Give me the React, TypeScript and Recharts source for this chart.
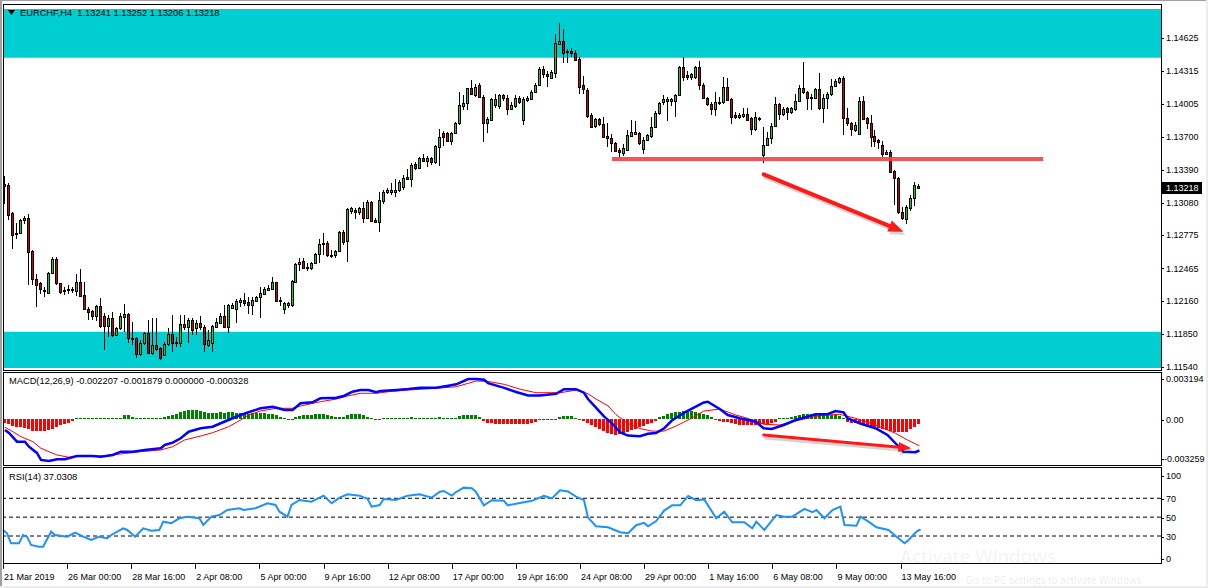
import React from "react";
import {
  Bar,
  ComposedChart,
  Line,
  ReferenceArea,
  ReferenceLine,
  XAxis,
  YAxis,
} from "recharts";

// MT4-style EURCHF H4 window: price panel with zones, MACD and RSI sub-windows.

const FONT = '"Liberation Sans", Arial, Helvetica, sans-serif';

const OPEN = [
  1.13253, 1.13246, 1.12981, 1.12785, 1.12794, 1.12919, 1.12934, 1.12629, 1.12363, 1.12326,
  1.12254, 1.12239, 1.1242, 1.12551, 1.12326, 1.12264, 1.12264, 1.12264, 1.12257, 1.12335,
  1.12214, 1.12089, 1.12064, 1.1202, 1.12114, 1.1202, 1.11927, 1.11998, 1.11842, 1.11905,
  1.12014, 1.12039, 1.11817, 1.11811, 1.11665, 1.11764, 1.11864, 1.11671, 1.11749, 1.11718,
  1.11655, 1.11758, 1.11852, 1.11774, 1.11764, 1.11945, 1.1192, 1.11983, 1.11905, 1.11958,
  1.1192, 1.11749, 1.11771, 1.1192, 1.11958, 1.1202, 1.1192, 1.12092, 1.12089, 1.12151,
  1.1217, 1.12151, 1.12126, 1.12164, 1.12195, 1.12226, 1.12264, 1.12273, 1.12335, 1.1217,
  1.12083, 1.12126, 1.12123, 1.12338, 1.12504, 1.12535, 1.12473, 1.12466, 1.12513, 1.12597,
  1.127, 1.127, 1.12591, 1.12591, 1.12629, 1.1281, 1.12722, 1.13003, 1.13009, 1.12991,
  1.13028, 1.12934, 1.13084, 1.12919, 1.12897, 1.13097, 1.13184, 1.13178, 1.13184, 1.132,
  1.13231, 1.13324, 1.13303, 1.1344, 1.13402, 1.13496, 1.13471, 1.13496, 1.13459, 1.13605,
  1.1373, 1.1373, 1.13658, 1.1373, 1.13824, 1.13989, 1.14011, 1.14151, 1.14093, 1.14184,
  1.1407, 1.13825, 1.13857, 1.13995, 1.13982, 1.14093, 1.1406, 1.13955, 1.13988, 1.1406,
  1.13851, 1.14044, 1.14047, 1.14119, 1.14184, 1.14331, 1.14289, 1.14249, 1.14298, 1.1457,
  1.14596, 1.14504, 1.14498, 1.14485, 1.14429, 1.14184, 1.14135, 1.13897, 1.13799, 1.13864,
  1.13818, 1.13701, 1.13687, 1.13635, 1.1357, 1.13547, 1.1357, 1.13701, 1.13727, 1.13733,
  1.1358, 1.13668, 1.13701, 1.13792, 1.13923, 1.14021, 1.14037, 1.14034, 1.14037, 1.14086,
  1.14354, 1.14275, 1.14256, 1.14256, 1.14354, 1.14184, 1.1406, 1.14004, 1.13962, 1.14011,
  1.14026, 1.14167, 1.14051, 1.13901, 1.13886, 1.13895, 1.13908, 1.13876, 1.1377, 1.13864,
  1.13527, 1.13621, 1.13683, 1.13802, 1.14001, 1.13908, 1.1397, 1.13926, 1.13958, 1.14032,
  1.14151, 1.14114, 1.14073, 1.14064, 1.14145, 1.13964, 1.14057, 1.14095, 1.14176, 1.14213,
  1.14245, 1.13876, 1.13823, 1.13761, 1.1372, 1.14032, 1.1387, 1.13823, 1.13708, 1.13667,
  1.13621, 1.13539, 1.13552, 1.13377, 1.13315, 1.12997, 1.12928, 1.13034, 1.13128, 1.13241,
];

const HIGH = [
  1.13331, 1.13262, 1.12997, 1.12888, 1.12928, 1.12956, 1.12972, 1.12638, 1.12413, 1.12342,
  1.12295, 1.12432, 1.12569, 1.12569, 1.12332, 1.12295, 1.1231, 1.12295, 1.12413, 1.1246,
  1.12335, 1.12108, 1.12076, 1.12123, 1.12186, 1.12045, 1.1203, 1.12061, 1.1192, 1.12045,
  1.12133, 1.12045, 1.11961, 1.11827, 1.11796, 1.11874, 1.11983, 1.11998, 1.11998, 1.11733,
  1.11774, 1.11905, 1.1203, 1.11827, 1.1203, 1.1203, 1.11998, 1.11998, 1.11983, 1.1202,
  1.11936, 1.11889, 1.11936, 1.11998, 1.12045, 1.12123, 1.12133, 1.12139, 1.12179, 1.12192,
  1.12232, 1.12201, 1.12201, 1.12207, 1.12289, 1.12295, 1.12307, 1.12388, 1.12342, 1.12201,
  1.12154, 1.12154, 1.12357, 1.12513, 1.1256, 1.1256, 1.12513, 1.12529, 1.12607, 1.12741,
  1.12794, 1.12722, 1.12638, 1.12638, 1.12816, 1.12825, 1.13034, 1.13044, 1.13034, 1.13044,
  1.1309, 1.13106, 1.13097, 1.12934, 1.13184, 1.132, 1.13215, 1.13262, 1.13303, 1.13293,
  1.1334, 1.13396, 1.13449, 1.13459, 1.13512, 1.13534, 1.13521, 1.13512, 1.13621, 1.13771,
  1.13752, 1.13739, 1.13739, 1.13833, 1.1412, 1.14089, 1.14157, 1.14229, 1.14191, 1.142,
  1.14086, 1.13883, 1.1406, 1.14102, 1.14102, 1.14102, 1.14086, 1.14021, 1.14093, 1.1408,
  1.14066, 1.1408, 1.14132, 1.14197, 1.14347, 1.14364, 1.14315, 1.14321, 1.14658, 1.14766,
  1.14707, 1.14517, 1.14527, 1.14511, 1.14445, 1.14266, 1.14151, 1.13923, 1.13874, 1.13874,
  1.13883, 1.13831, 1.13727, 1.13645, 1.13596, 1.13629, 1.13759, 1.13851, 1.13841, 1.13743,
  1.13694, 1.13727, 1.13883, 1.13939, 1.14027, 1.14093, 1.1407, 1.1406, 1.14102, 1.14364,
  1.14445, 1.14315, 1.14298, 1.14364, 1.14406, 1.142, 1.1407, 1.14027, 1.14119, 1.14073,
  1.1426, 1.14245, 1.14064, 1.13933, 1.13917, 1.13964, 1.13964, 1.13886, 1.13926, 1.13886,
  1.13792, 1.13745, 1.13823, 1.14073, 1.14011, 1.13979, 1.13979, 1.13979, 1.14095, 1.14182,
  1.14401, 1.14126, 1.14095, 1.14157, 1.14291, 1.14095, 1.1412, 1.14238, 1.14238, 1.1426,
  1.1427, 1.13964, 1.13839, 1.13839, 1.14073, 1.14082, 1.13886, 1.13901, 1.13761, 1.13677,
  1.13658, 1.13574, 1.13574, 1.13387, 1.13324, 1.13043, 1.13059, 1.13153, 1.13271, 1.13252,
];

const LOW = [
  1.1307, 1.12919, 1.12647, 1.12738, 1.12788, 1.12881, 1.12304, 1.1231, 1.12108, 1.12226,
  1.12201, 1.12232, 1.12413, 1.1231, 1.12226, 1.12217, 1.12226, 1.12239, 1.12207, 1.12201,
  1.12083, 1.11983, 1.11983, 1.11977, 1.11905, 1.11702, 1.11827, 1.11827, 1.11833, 1.11889,
  1.11874, 1.11764, 1.11749, 1.11633, 1.11646, 1.11749, 1.11665, 1.11655, 1.11686, 1.11608,
  1.11646, 1.11733, 1.11686, 1.11733, 1.11733, 1.11889, 1.11764, 1.11842, 1.11842, 1.11889,
  1.11686, 1.11733, 1.11686, 1.11905, 1.11952, 1.1191, 1.11858, 1.12083, 1.11958, 1.12108,
  1.12108, 1.12039, 1.12033, 1.12154, 1.11998, 1.12217, 1.12248, 1.12264, 1.12154, 1.12114,
  1.12045, 1.12101, 1.12101, 1.12326, 1.12441, 1.12466, 1.12435, 1.12451, 1.12504, 1.12513,
  1.12591, 1.12576, 1.1256, 1.1256, 1.12622, 1.12685, 1.12529, 1.12981, 1.12934, 1.12972,
  1.12897, 1.12928, 1.12903, 1.12888, 1.1281, 1.13065, 1.13159, 1.13153, 1.13137, 1.13184,
  1.132, 1.13293, 1.13221, 1.13387, 1.13396, 1.13459, 1.13418, 1.13434, 1.1344, 1.13427,
  1.13615, 1.13652, 1.13621, 1.13721, 1.13814, 1.13948, 1.13948, 1.14089, 1.1407, 1.1406,
  1.13645, 1.13733, 1.13841, 1.13972, 1.13962, 1.14037, 1.13897, 1.13949, 1.13972, 1.14004,
  1.13805, 1.14027, 1.14037, 1.14112, 1.14178, 1.14249, 1.14168, 1.14233, 1.14243, 1.1456,
  1.14387, 1.14387, 1.14445, 1.14413, 1.14102, 1.14102, 1.13874, 1.13785, 1.13785, 1.13799,
  1.13687, 1.13603, 1.13557, 1.13557, 1.13514, 1.13514, 1.13563, 1.13694, 1.1371, 1.13622,
  1.13537, 1.13661, 1.13687, 1.13785, 1.13906, 1.14001, 1.13841, 1.13988, 1.13883, 1.1408,
  1.14217, 1.14233, 1.14233, 1.14243, 1.14135, 1.14053, 1.13982, 1.13906, 1.13897, 1.13995,
  1.14011, 1.14026, 1.13823, 1.13864, 1.13864, 1.1387, 1.13845, 1.13714, 1.13752, 1.13851,
  1.13458, 1.13614, 1.13627, 1.13792, 1.13855, 1.13895, 1.13855, 1.13917, 1.13939, 1.1402,
  1.14104, 1.13948, 1.13948, 1.14051, 1.13948, 1.13823, 1.13964, 1.14082, 1.14167, 1.14198,
  1.1372, 1.13792, 1.13708, 1.13745, 1.13714, 1.13855, 1.13777, 1.13605, 1.13605, 1.13583,
  1.13511, 1.13527, 1.13365, 1.13059, 1.12981, 1.12919, 1.12878, 1.13003, 1.13043, 1.13206,
];

const CLOSE = [
  1.1324, 1.12966, 1.12778, 1.128, 1.12919, 1.12934, 1.12622, 1.12363, 1.12314, 1.1227,
  1.12264, 1.12426, 1.12551, 1.12326, 1.12248, 1.12251, 1.12276, 1.12276, 1.12335, 1.12211,
  1.12089, 1.12061, 1.1202, 1.12114, 1.11927, 1.1193, 1.11998, 1.11842, 1.11905, 1.12023,
  1.12039, 1.11811, 1.11805, 1.11665, 1.11764, 1.11864, 1.11671, 1.11749, 1.11708, 1.11624,
  1.11758, 1.11852, 1.11771, 1.11764, 1.11945, 1.1192, 1.11983, 1.11889, 1.11958, 1.1192,
  1.11758, 1.11796, 1.11927, 1.11967, 1.1202, 1.1192, 1.12123, 1.12123, 1.12161, 1.1217,
  1.12145, 1.12126, 1.1217, 1.12198, 1.12239, 1.1227, 1.12282, 1.12335, 1.12164, 1.12164,
  1.12139, 1.12145, 1.12348, 1.12504, 1.12529, 1.12473, 1.12482, 1.12513, 1.12597, 1.12691,
  1.12691, 1.12591, 1.12579, 1.12629, 1.1281, 1.12716, 1.13022, 1.13028, 1.12997, 1.13034,
  1.12934, 1.13084, 1.1291, 1.12897, 1.13103, 1.13184, 1.132, 1.132, 1.132, 1.13271,
  1.13315, 1.13303, 1.13434, 1.13402, 1.13496, 1.13471, 1.13496, 1.13459, 1.13611, 1.13699,
  1.13699, 1.13658, 1.1373, 1.13824, 1.13995, 1.14011, 1.14151, 1.14095, 1.14168, 1.1407,
  1.13825, 1.13864, 1.14047, 1.14053, 1.14093, 1.1406, 1.13955, 1.13995, 1.1406, 1.14027,
  1.14053, 1.1406, 1.14119, 1.14184, 1.14331, 1.14282, 1.14266, 1.14308, 1.14576, 1.14596,
  1.14478, 1.14488, 1.14485, 1.14419, 1.14168, 1.14145, 1.1389, 1.13792, 1.13864, 1.13818,
  1.13694, 1.13687, 1.13635, 1.13563, 1.13557, 1.1359, 1.1371, 1.13743, 1.13743, 1.13635,
  1.13668, 1.1371, 1.13792, 1.13923, 1.14014, 1.14047, 1.14053, 1.14047, 1.14086, 1.14354,
  1.14256, 1.14256, 1.14282, 1.14354, 1.14184, 1.1406, 1.14004, 1.13955, 1.14027, 1.14026,
  1.14167, 1.14042, 1.13886, 1.13883, 1.13901, 1.13908, 1.13855, 1.1377, 1.13883, 1.13876,
  1.13621, 1.13689, 1.13802, 1.14001, 1.13908, 1.13958, 1.13926, 1.13964, 1.14032, 1.14151,
  1.14114, 1.14064, 1.14057, 1.14145, 1.13964, 1.14064, 1.14095, 1.14176, 1.1422, 1.14251,
  1.1387, 1.13823, 1.1377, 1.13808, 1.14032, 1.13864, 1.13823, 1.13699, 1.13658, 1.13646,
  1.13533, 1.13558, 1.13371, 1.13315, 1.12997, 1.12934, 1.13043, 1.13128, 1.13246, 1.13218,
];

// MACD(12,26,9): main - signal histogram, one value per bar
const MACD_HIST = [
  -0.00028, -0.00035, -0.00046, -0.00053, -0.00056, -0.00063, -0.0007, -0.00081, -0.00086, -0.00086,
  -0.00084, -0.00077, -0.0007, -0.00056, -0.00042, -0.00032, -0.00025, -0.00014, 0.00004, 0.00004,
  0.00005, 0.00004, 0.00006, 0.00004, 0.00004, 0.00005, 0.00004, 0.00006, 0.00006, 0.00007,
  0.00028, 0.00025, 0.00014, 0.00006, 0.00007, 0.00008, 0.00007, 0.00006, 0.00007, 0.00008,
  0.00011, 0.00018, 0.00028, 0.00035, 0.00046, 0.00053, 0.0006, 0.00061, 0.00061, 0.00056,
  0.00046, 0.00039, 0.00039, 0.00042, 0.00046, 0.00042, 0.00046, 0.00046, 0.00042, 0.00039,
  0.00035, 0.00035, 0.00039, 0.00039, 0.00042, 0.00039, 0.00035, 0.00032, 0.00025, 0.00014,
  0.00004, -0.00007, -0.00004, 0.00011, 0.00021, 0.00028, 0.00028, 0.00028, 0.00032, 0.00035,
  0.00032, 0.00025, 0.00018, 0.00011, 0.00011, 0.00011, 0.00028, 0.00035, 0.00035, 0.00035,
  0.00025, 0.00011, 0.00007, -0.00005, -0.00004, 0.00004, 0.00006, 0.00007, 0.00008, 0.00007,
  0.00008, 0.00006, 0.00011, 0.00008, 0.00007, 0.00006, 0.00005, 0.00004, 0.00007, 0.00011,
  0.00008, 0.00006, 0.00004, 0.00007, 0.00018, 0.00025, 0.00028, 0.00028, 0.00028, 0.00014,
  -0.00014, -0.00025, -0.00028, -0.00032, -0.00032, -0.00032, -0.00035, -0.00035, -0.00035, -0.00035,
  -0.00032, -0.00032, -0.00028, -0.00021, -0.00007, -0.00007, -0.00005, -0.00005, -0.00004, 0.00011,
  0.00021, 0.00021, 0.00018, 0.00007, -0.00004, -0.00014, -0.00028, -0.00042, -0.00056, -0.0007,
  -0.00084, -0.00095, -0.00105, -0.00109, -0.00105, -0.00102, -0.00091, -0.00077, -0.00067, -0.00056,
  -0.00046, -0.00035, -0.00025, -0.00014, 0.00011, 0.00021, 0.00032, 0.00039, 0.00046, 0.00049,
  0.00054, 0.00054, 0.00053, 0.00049, 0.00042, 0.00035, 0.00028, 0.00011, -0.00007, -0.00014,
  -0.00018, -0.00019, -0.00028, -0.00035, -0.00039, -0.00042, -0.00042, -0.00042, -0.00042, -0.00039,
  -0.00037, -0.00035, -0.00028, -0.00018, 0.00005, 0.00007, 0.00008, 0.00014, 0.00021, 0.00028,
  0.00033, 0.00033, 0.00032, 0.00032, 0.00033, 0.00028, 0.00025, 0.00025, 0.00028, 0.00021,
  0.00004, -0.00019, -0.00025, -0.0003, -0.00028, -0.00032, -0.00039, -0.00046, -0.00053, -0.0006,
  -0.00067, -0.00074, -0.00081, -0.00088, -0.00091, -0.00091, -0.00088, -0.0007, -0.00053, -0.000328,
];

// [bar index, value]
const MACD_MAIN: [number, number][] = [
  [0, -0.00077], [1, -0.00098], [3, -0.00159], [5, -0.00159], [6, -0.00194], [8, -0.00238],
  [9, -0.00287], [11, -0.00294], [13, -0.00282], [15, -0.00282], [18, -0.00259], [22, -0.00259],
  [24, -0.00264], [27, -0.00252], [29, -0.00229], [32, -0.00229], [35, -0.00217], [39, -0.00205],
  [40, -0.00182], [42, -0.00166], [44, -0.00135], [46, -0.00089], [49, -0.00065], [52, -0.00054],
  [54, -0.0003], [57, 0.00005], [59, 0.00028], [61, 0.00047], [64, 0.00075], [67, 0.00086],
  [68, 0.00079], [70, 0.00063], [72, 0.00063], [73, 0.00086], [74, 0.0011], [77, 0.00117],
  [79, 0.00145], [83, 0.00149], [85, 0.00163], [87, 0.00191], [89, 0.00203], [91, 0.00203],
  [93, 0.00187], [94, 0.00196], [98, 0.00203], [101, 0.0021], [104, 0.00219], [108, 0.00219],
  [111, 0.00233], [113, 0.00243], [116, 0.0028], [118, 0.0028], [120, 0.00275], [121, 0.00251],
  [125, 0.00218], [128, 0.00189], [131, 0.00165], [134, 0.00165], [138, 0.00177], [140, 0.00209],
  [143, 0.00209], [145, 0.00184], [146, 0.0014], [148, 0.00079], [150, 0.00018], [152, -0.00031],
  [154, -0.00092], [156, -0.00116], [159, -0.00121], [161, -0.00104], [163, -0.00099], [165, -0.00067],
  [167, -0.00011], [170, 0.00043], [173, 0.00087], [175, 0.00116], [176, 0.00121], [179, 0.0007],
  [181, 0.00028], [184, 0.00005], [188, -0.00019], [190, -0.00065], [192, -0.0007], [195, -0.00042],
  [198, -0.00007], [203, 0.00033], [206, 0.00033], [208, 0.00056], [210, 0.00047], [211, 0.00005],
  [214, -0.0003], [218, -0.00065], [221, -0.00112], [223, -0.0017], [225, -0.00229], [228, -0.00233],
  [229, -0.002207],
];

const MACD_SIGNAL: [number, number][] = [
  [0, -0.00058], [2, -0.00089], [4, -0.00124], [7, -0.00159], [9, -0.00205], [11, -0.00229],
  [13, -0.00252], [16, -0.00268], [20, -0.00259], [24, -0.00259], [29, -0.00245], [34, -0.00229],
  [39, -0.00217], [42, -0.00194], [45, -0.00147], [49, -0.00119], [52, -0.00096], [56, -0.00054],
  [59, -0.00007], [61, 0.00028], [64, 0.00056], [68, 0.00075], [72, 0.00075], [74, 0.00091],
  [79, 0.00121], [83, 0.0014], [86, 0.00163], [89, 0.0018], [93, 0.0018], [96, 0.00191],
  [101, 0.00203], [108, 0.00215], [113, 0.00226], [116, 0.0025], [118, 0.00266], [121, 0.00263],
  [125, 0.00243], [129, 0.00209], [133, 0.00184], [139, 0.00184], [143, 0.00202], [146, 0.00177],
  [148, 0.0014], [151, 0.00092], [153, 0.00031], [156, -0.00031], [159, -0.00067], [162, -0.00085],
  [165, -0.00085], [168, -0.0005], [172, 0.00006], [175, 0.00055], [179, 0.0007], [183, 0.00028],
  [186, 0.00005], [190, -0.00037], [194, -0.00042], [199, -0.00007], [204, 0.00023], [209, 0.00033],
  [213, 0.00005], [218, -0.00042], [223, -0.001], [226, -0.00147], [229, -0.001879],
];

const RSI_LINE: [number, number][] = [
  [0, 36.4], [1, 32.9], [2, 22.3], [4, 22.3], [5, 31.1], [6, 29.3], [7, 20.5], [9, 18.7],
  [10, 18.7], [12, 34.6], [13, 31.1], [16, 29.3], [18, 33.5], [20, 29.3], [22, 25.8], [24, 29.3],
  [26, 27.6], [27, 31.1], [30, 38.2], [31, 36.4], [33, 29.3], [35, 38.2], [37, 35.6], [39, 36.4],
  [40, 45.2], [42, 43.5], [44, 48.8], [46, 50.5], [49, 48.8], [50, 41.7], [52, 50.5], [54, 52.3],
  [56, 57.6], [59, 59.4], [60, 57.6], [63, 59.4], [66, 64.7], [68, 62.9], [69, 55.8], [71, 50.5],
  [72, 62.9], [74, 68.2], [77, 66.4], [80, 72.8], [82, 64.7], [84, 70.7], [86, 74.3], [89, 72.8],
  [91, 69.3], [92, 61.1], [94, 62.9], [95, 69.3], [98, 68.2], [101, 72.8], [104, 74.3], [107, 70.7],
  [109, 77.0], [110, 77.8], [112, 72.8], [113, 76.4], [115, 81.3], [117, 80.6], [118, 77.0], [120, 62.6],
  [122, 68.0], [125, 67.3], [126, 62.5], [129, 65.0], [132, 67.3], [135, 72.5], [137, 69.9], [139, 78.4],
  [141, 77.3], [143, 71.7], [145, 68.0], [146, 49.5], [148, 40.3], [151, 39.2], [154, 34.0], [156, 32.9],
  [158, 41.4], [160, 43.9], [161, 40.3], [163, 45.8], [165, 57.0], [167, 62.5], [169, 62.5], [171, 72.5],
  [173, 68.0], [175, 68.8], [178, 48.8], [180, 55.8], [182, 44.6], [185, 44.6], [187, 38.2], [188, 45.2],
  [190, 36.4], [193, 52.3], [195, 50.5], [197, 50.5], [200, 58.7], [202, 55.2], [203, 57.6], [205, 48.8],
  [207, 57.6], [209, 61.1], [210, 41.7], [213, 41.0], [214, 50.5], [216, 45.2], [218, 39.3], [221, 36.4],
  [223, 29.3], [225, 22.3], [226, 25.8], [228, 34.6], [229, 37.0308],
];

const PRICE_TICKS = [1.14625, 1.14315, 1.14005, 1.137, 1.1339, 1.1308, 1.12775, 1.12465, 1.1216, 1.1185, 1.1154];
const MACD_TICKS = [0.003194, 0, -0.003259];
const RSI_TICKS = [100, 70, 50, 30, 0];
const RSI_LEVELS = [70, 50, 30];

const TIME_TICK_INDEX = [0, 16, 32, 48, 64, 80, 96, 112, 128, 144, 160, 176, 192, 208, 224];
const TIME_TICK_LABELS = [
  "21 Mar 2019", "26 Mar 00:00", "28 Mar 16:00", "2 Apr 08:00", "5 Apr 00:00",
  "9 Apr 16:00", "12 Apr 08:00", "17 Apr 00:00", "19 Apr 16:00", "24 Apr 08:00",
  "29 Apr 00:00", "1 May 16:00", "6 May 08:00", "9 May 00:00", "13 May 16:00",
];

// hand-drawn objects on the chart
const SUPPLY_ZONE = [1.14438, 1.14894];
const DEMAND_ZONE = [1.11533, 1.11873];
const NECKLINE = { from: 152, to: 260, price: 1.1349 };
const PRICE_ARROW = { from: [190, 1.13346], to: [225, 1.12809] };
const MACD_ARROW = { from: [190, -0.00112], to: [227, -0.00205] };

const SLOTS = 290; // bar slots incl. the empty chart shift on the right
const LAST = OPEN.length - 1;
const PRICE_DOMAIN: [number, number] = [1.115146, 1.149404];
const MACD_DOMAIN: [number, number] = [-0.003259, 0.003194];

const BULL = "#22c822";
const BEAR = "#d40000";
const CYAN = "#00ced1";
const AXIS_FONT = 9;

type Row = {
  i: number;
  o?: number;
  h?: number;
  l?: number;
  c?: number;
  range?: [number, number];
  hist?: number;
  macd?: number;
  signal?: number;
  rsi?: number;
};

const rows: Row[] = Array.from({ length: SLOTS }, (_, i) =>
  i < OPEN.length
    ? { i, o: OPEN[i], h: HIGH[i], l: LOW[i], c: CLOSE[i], range: [LOW[i], HIGH[i]], hist: MACD_HIST[i] }
    : { i }
);
MACD_MAIN.forEach(([i, v]) => (rows[i].macd = v));
MACD_SIGNAL.forEach(([i, v]) => (rows[i].signal = v));
RSI_LINE.forEach(([i, v]) => (rows[i].rsi = v));

function Candle(props: any) {
  const { x, y, width, height, payload } = props;
  if (!payload || payload.o == null) return null;
  const { o, h, l, c } = payload;
  const span = h - l || 1e-9;
  const py = (p: number) => y + ((h - p) / span) * height;
  const cx = Math.round(x + width / 2 - 0.5);
  const top = Math.round(py(Math.max(o, c)));
  const bot = Math.round(py(Math.min(o, c)));
  const up = c > o;
  return (
    <g shapeRendering="crispEdges">
      <rect x={cx} y={Math.round(y)} width={1} height={Math.max(1, Math.round(height))} fill="#000" />
      <rect x={cx - 1} y={top} width={3} height={Math.max(1, bot - top + 1)} fill="#000" />
      {bot - top >= 2 && (
        <rect x={cx} y={top + 1} width={1} height={bot - top - 1} fill={up ? BULL : BEAR} />
      )}
    </g>
  );
}

function HistBar(props: any) {
  const { x, y, width, height, payload } = props;
  if (!payload || payload.hist == null) return null;
  const top = Math.min(y, y + height);
  const h = Math.max(1, Math.abs(height));
  const cx = Math.round(x + width / 2 - 0.5);
  return (
    <rect
      x={cx - 1}
      y={top}
      width={3}
      height={h}
      fill={payload.hist >= 0 ? "#008000" : "#ff0000"}
      shapeRendering="crispEdges"
    />
  );
}

function Arrow(props: any) {
  const { x1, y1, x2, y2, width = 4, head = 15, half = 6 } = props;
  const a = Math.atan2(y2 - y1, x2 - x1);
  const bx = x2 - head * Math.cos(a);
  const by = y2 - head * Math.sin(a);
  const nx = -Math.sin(a) * half;
  const ny = Math.cos(a) * half;
  const pts = `${x2},${y2} ${bx + nx},${by + ny} ${bx - nx},${by - ny}`;
  return (
    <g>
      <g transform="translate(2,3)" opacity={0.25}>
        <line x1={x1} y1={y1} x2={bx} y2={by} stroke="#555" strokeWidth={width} strokeLinecap="round" />
        <polygon points={pts} fill="#555" />
      </g>
      <line x1={x1} y1={y1} x2={bx + Math.cos(a)} y2={by + Math.sin(a)} stroke="#ff1a1a" strokeWidth={width} strokeLinecap="round" />
      <polygon points={pts} fill="#ff1a1a" />
    </g>
  );
}

const textStyle = { fontSize: AXIS_FONT, fontFamily: FONT, fill: "#000" };

function PriceTick(props: any) {
  const { x, y, payload } = props;
  const v = payload.value as number;
  const label = v.toFixed(5);
  if (v === CLOSE[LAST]) {
    return (
      <g>
        <rect x={x - 4} y={y - 6} width={40} height={12} fill="#000" />
        <text x={x} y={y} dy="0.35em" {...textStyle} fill="#fff">
          {label}
        </text>
      </g>
    );
  }
  return (
    <g>
      <line x1={x - 5} x2={x - 2} y1={Math.round(y) + 0.5} y2={Math.round(y) + 0.5} stroke="#000" />
      <text x={x} y={y} dy="0.35em" {...textStyle}>
        {label}
      </text>
    </g>
  );
}

function makeSubTick(format: (v: number) => string, shift: (v: number) => number, dx: (v: number) => number) {
  return (props: any) => {
    const { x, y, payload } = props;
    const v = payload.value as number;
    const yy = y + shift(v);
    return (
      <g>
        <line x1={x - 5} x2={x - 2} y1={Math.round(yy) + 0.5} y2={Math.round(yy) + 0.5} stroke="#000" />
        <text x={x + dx(v)} y={yy} dy="0.35em" {...textStyle}>
          {format(v)}
        </text>
      </g>
    );
  };
}

const MacdTick = makeSubTick(
  (v) => (v === 0 ? "0.00" : v.toFixed(6)),
  (v) => (v === MACD_TICKS[0] ? 5.6 : v === MACD_TICKS[2] ? -6.2 : 1),
  (v) => (v < 0 ? -2 : 0)
);
const RsiTick = makeSubTick(
  (v) => String(v),
  (v) => (v === 100 ? 6 : v === 0 ? -5.3 : 0.8),
  () => 0
);

function TimeTick(props: any) {
  const { x, y, payload } = props;
  const k = TIME_TICK_INDEX.indexOf(payload.value);
  const xx = Math.round(x) + 0.5;
  return (
    <g>
      <line x1={xx} x2={xx} y1={y} y2={y + 4.5} stroke="#000" />
      <text x={x + 1} y={y + 12.5} dy="0.35em" {...textStyle}>
        {TIME_TICK_LABELS[k]}
      </text>
    </g>
  );
}

const abs = (left: number, top: number, extra: React.CSSProperties = {}): React.CSSProperties => ({
  position: "absolute",
  left,
  top,
  ...extra,
});

const frame = (top: number, height: number): React.CSSProperties =>
  abs(3, top, { width: 1159, height, border: "1px solid #000", boxSizing: "border-box", pointerEvents: "none" });

const label: React.CSSProperties = { fontSize: 9.3, lineHeight: "12px", color: "#000", whiteSpace: "pre" };

export default function App() {
  const header = `EURCHF,H4  ${OPEN[LAST].toFixed(5)} ${HIGH[LAST].toFixed(5)} ${LOW[LAST].toFixed(5)} ${CLOSE[LAST].toFixed(5)}`;
  const lastHist = MACD_HIST[LAST];
  const macdTitle = `MACD(12,26,9) ${MACD_MAIN[MACD_MAIN.length - 1][1].toFixed(6)} ${MACD_SIGNAL[
    MACD_SIGNAL.length - 1
  ][1].toFixed(6)} ${(lastHist > 0 ? lastHist : 0).toFixed(6)} ${(lastHist < 0 ? lastHist : 0).toFixed(6)}`;
  const rsiTitle = `RSI(14) ${RSI_LINE[RSI_LINE.length - 1][1].toFixed(4)}`;

  return (
    <div style={{ position: "relative", width: 1208, height: 588, overflow: "hidden", background: "#fff", fontFamily: FONT }}>
      <style>{"html,body{margin:0;padding:0;background:#fff}"}</style>

      <div style={abs(0, 0)}>
        <ComposedChart width={1208} height={372} data={rows} margin={{ top: 4, right: 0, bottom: 2, left: 3 }}>
          <XAxis dataKey="i" hide />
          <YAxis
            orientation="right"
            width={47}
            type="number"
            domain={PRICE_DOMAIN}
            allowDataOverflow
            ticks={[...PRICE_TICKS, CLOSE[LAST]]}
            interval={0}
            tick={PriceTick}
            tickLine={false}
            axisLine={false}
            tickSize={5}
            tickMargin={0}
          />
          <ReferenceArea y1={SUPPLY_ZONE[0]} y2={SUPPLY_ZONE[1]} fill={CYAN} fillOpacity={1} stroke="none" />
          <ReferenceArea y1={DEMAND_ZONE[0]} y2={DEMAND_ZONE[1]} fill={CYAN} fillOpacity={1} stroke="none" />
          <Bar dataKey="range" barSize={3} shape={Candle} isAnimationActive={false} />
          <ReferenceLine
            segment={[
              { x: NECKLINE.from, y: NECKLINE.price },
              { x: NECKLINE.to, y: NECKLINE.price },
            ]}
            stroke="#f04848"
            strokeOpacity={0.92}
            strokeWidth={4}
          />
          <ReferenceLine
            segment={[
              { x: PRICE_ARROW.from[0], y: PRICE_ARROW.from[1] },
              { x: PRICE_ARROW.to[0], y: PRICE_ARROW.to[1] },
            ]}
            shape={(p: any) => <Arrow {...p} width={4} head={15} half={6} />}
          />
        </ComposedChart>
      </div>

      <div style={abs(0, 372)}>
        <ComposedChart width={1208} height={94} data={rows} margin={{ top: 1.4, right: 0, bottom: 0.5, left: 3 }}>
          <XAxis dataKey="i" hide />
          <YAxis
            orientation="right"
            width={47}
            type="number"
            domain={MACD_DOMAIN}
            allowDataOverflow
            ticks={MACD_TICKS}
            interval={0}
            tick={MacdTick}
            tickLine={false}
            axisLine={false}
            tickSize={5}
            tickMargin={0}
          />
          <Bar dataKey="hist" barSize={3} shape={HistBar} isAnimationActive={false} />
          <Line dataKey="signal" stroke="#ff0000" strokeWidth={1} dot={false} activeDot={false} connectNulls isAnimationActive={false} />
          <Line dataKey="macd" stroke="#0000ff" strokeWidth={2.5} dot={false} activeDot={false} connectNulls isAnimationActive={false} />
          <ReferenceLine
            segment={[
              { x: MACD_ARROW.from[0], y: MACD_ARROW.from[1] },
              { x: MACD_ARROW.to[0], y: MACD_ARROW.to[1] },
            ]}
            shape={(p: any) => <Arrow {...p} width={3} head={13} half={5} />}
          />
        </ComposedChart>
      </div>

      <div style={abs(0, 467)}>
        <ComposedChart width={1208} height={118} data={rows} margin={{ top: 3, right: 0, bottom: 0, left: 3 }}>
          <XAxis
            dataKey="i"
            height={20.7}
            ticks={TIME_TICK_INDEX}
            interval={0}
            tick={TimeTick}
            tickLine={false}
            axisLine={false}
            tickSize={0}
            tickMargin={0}
          />
          <YAxis
            orientation="right"
            width={47}
            type="number"
            domain={[0, 100]}
            allowDataOverflow
            ticks={RSI_TICKS}
            interval={0}
            tick={RsiTick}
            tickLine={false}
            axisLine={false}
            tickSize={5}
            tickMargin={0}
          />
          {RSI_LEVELS.map((lv) => (
            <ReferenceLine key={lv} y={lv} stroke="#000" strokeDasharray="4 3" />
          ))}
          <Line dataKey="rsi" stroke="#1e90ff" strokeWidth={2} dot={false} activeDot={false} connectNulls isAnimationActive={false} />
        </ComposedChart>
      </div>

      <div style={frame(4, 367)} />
      <div style={frame(372, 94)} />
      <div style={frame(467, 97)} />

      <svg style={abs(8, 10)} width={8} height={6}>
        <polygon points="0,0 7,0 3.5,5" fill="#000" />
      </svg>
      <div style={{ ...abs(20, 7), ...label }}>{header}</div>
      <div style={{ ...abs(9, 375), ...label }}>{macdTitle}</div>
      <div style={{ ...abs(9, 471), ...label }}>{rsiTitle}</div>

      <div style={{ ...abs(900, 543), fontSize: 19, color: "rgba(120,120,120,0.10)", fontFamily: '"Open Sans", sans-serif' }}>
        Activate Windows
      </div>
      <div style={{ ...abs(966, 574), fontSize: 10, lineHeight: "12px", color: "rgba(120,120,120,0.16)", fontFamily: '"Open Sans", sans-serif' }}>
        Go to PC settings to activate Windows.
      </div>

      <div style={abs(0, 0, { width: 1208, height: 1, background: "#a0a0a0" })} />
      <div style={abs(0, 0, { width: 2, height: 588, background: "#a0a0a0" })} />
      <div style={abs(0, 586, { width: 1208, height: 2, background: "#ececec" })} />
      <div style={abs(1206, 0, { width: 2, height: 588, background: "#ececec" })} />
    </div>
  );
}
